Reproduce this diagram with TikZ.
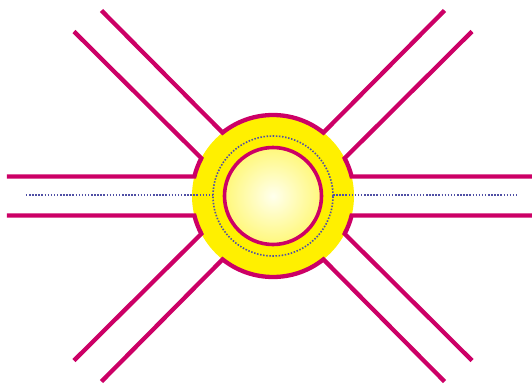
\documentclass[tikz,border=0pt]{standalone}
\usepackage{tikz}
\usepackage{xcolor}
\definecolor{roadpink}{RGB}{204,0,102}
\definecolor{sunyellow}{RGB}{255,240,0}
\definecolor{dotblue}{RGB}{80,80,165}

\begin{document}
\begin{tikzpicture}[x=1pt,y=1pt,
  road/.style={draw=roadpink,line width=4.3pt,line join=miter},
  guide/.style={draw=dotblue,line width=1.6pt,dash pattern=on 1.5pt off 1.6pt}]
\useasboundingbox (-273,-190) rectangle (259,196);
\coordinate (c) at (0,0);
\fill[sunyellow] (c) circle (81);
\begin{scope}
\clip (c) circle (48.5);
\shade[inner color=yellow!7, outer color=sunyellow] (c) circle (100);
\end{scope}
\draw[guide] (-247,1) -- (-60,1);
\draw[guide] (60,1) -- (244,1);
\draw[guide] (c) circle (60);
\draw[roadpink,line width=3.6pt] (c) circle (48.5);
\draw[road] (259,19.5) -- (13.9:81) arc[start angle=13.9,end angle=27.8,radius=81] -- (199,164.5);
\draw[road] (171.5,185.5) -- (51.5:81) arc[start angle=51.5,end angle=128.5,radius=81] -- (-171.5,185.5);
\draw[road] (-199,164.5) -- (152.2:81) arc[start angle=152.2,end angle=166.1,radius=81] -- (-266,19.5);
\draw[road] (-266,-19.5) -- (193.9:81) arc[start angle=193.9,end angle=207.8,radius=81] -- (-199,-164.5);
\draw[road] (-171.5,-185.5) -- (231.5:81) arc[start angle=231.5,end angle=308.5,radius=81] -- (171.5,-185.5);
\draw[road] (199,-164.5) -- (332.2:81) arc[start angle=332.2,end angle=346.1,radius=81] -- (259,-19.5);
\end{tikzpicture}
\end{document}
